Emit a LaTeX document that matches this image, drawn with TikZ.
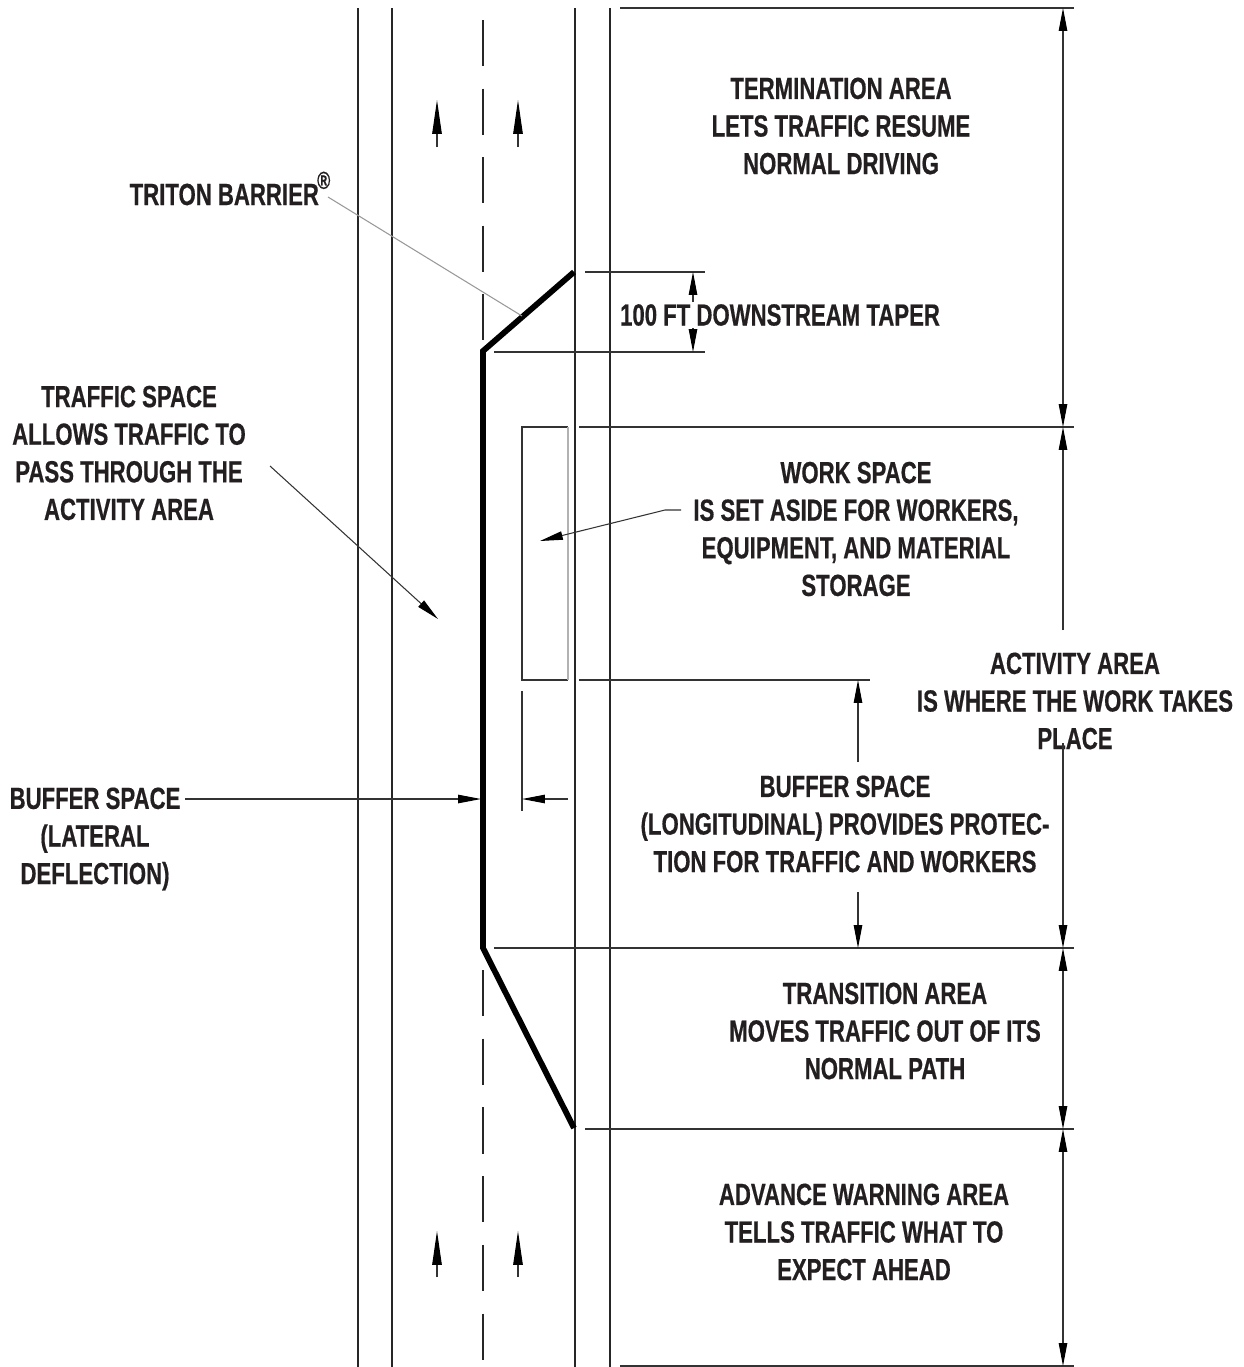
\documentclass[tikz,border=0pt]{standalone}
\usepackage{fontspec}
\usepackage{tikz}
\usetikzlibrary{calc,arrows.meta}
\setmainfont{Liberation Sans}[FakeStretch=0.725,BoldFeatures={FakeBold=.5}]
\definecolor{inktext}{HTML}{231F20}
\tikzset{
	head/.tip={Triangle[length=13pt,width=4.8pt,color=black]},
	bighead/.tip={Triangle[length=19.3pt,width=5.4pt,color=black]},
	road/.style={line width=.6pt,draw=black!85},
	dim/.style={line width=.6pt,draw=black!80},
	barrier/.style={line width=3.3pt,black,line join=miter},
	lead/.style={line width=.6pt,draw=black!80,-head},
	label/.style={font=\fontsize{17.4}{21.4}\selectfont\bfseries,text=inktext,align=center,inner sep=0pt}
}
\begin{document}
\begin{tikzpicture}[x=.02cm,y=-.02cm]
	\useasboundingbox (0,0) rectangle (1244,1367);
	\fill[white] (0,0) rectangle (1244,1367);
	% road edges
	\foreach \xpos in {358,392,575,610}{
		\draw[road] (\xpos,8)--(\xpos,1367);
	}
	\coordinate (dashtop) at (483,20);
	\coordinate (dashmid) at (483,342);
	\coordinate (dashlow) at (483,970);
	\coordinate (dashbot) at (483,1361);
	\draw[road,dash pattern=on 26.4pt off 12.6pt] (dashtop)--(dashmid);
	\draw[road,dash pattern=on 26.4pt off 12.7pt] (dashlow)--(dashbot);
	% barrier
	\coordinate (b1) at (574,272);
	\coordinate (b2) at (483,351);
	\coordinate (b3) at (483,948);
	\coordinate (b4) at (574,1128);
	\draw[barrier] (b1)--(b2)--(b3)--(b4);
	% labels
	\node[label] (term) at (841,126){TERMINATION AREA\\LETS TRAFFIC RESUME\\NORMAL DRIVING};
	\node[label,anchor=base] (triton) at (230,205){TRITON BARRIER\hspace{-1pt}\raisebox{1ex}{\fontsize{14}{14}\selectfont\textregistered}};
	\node[label] (taper) at (780,315){100 FT DOWNSTREAM TAPER};
	\node[label] (traffic) at (129,453){TRAFFIC SPACE\\ALLOWS TRAFFIC TO\\PASS THROUGH THE\\ACTIVITY AREA};
	\node[label] (work) at (856,529){WORK SPACE\\IS SET ASIDE FOR WORKERS,\\EQUIPMENT, AND MATERIAL\\STORAGE};
	\node[label] (activity) at (1075,701){ACTIVITY AREA\\IS WHERE THE WORK TAKES\\PLACE};
	\node[label] (bufflong) at (845,824){BUFFER SPACE\\(LONGITUDINAL) PROVIDES PROTEC-\\TION FOR TRAFFIC AND WORKERS};
	\node[label] (bufflat) at (95,839){BUFFER SPACE\\(LATERAL\\DEFLECTION)};
	\node[label] (trans) at (885,1031){TRANSITION AREA\\MOVES TRAFFIC OUT OF ITS\\NORMAL PATH};
	\node[label] (adv) at (864,1232){ADVANCE WARNING AREA\\TELLS TRAFFIC WHAT TO\\EXPECT AHEAD};
	% extension lines
	\foreach \xa/\xb/\ypos in {620/1074/8,585/705/272,494/705/352,579/1074/427,579/870/680,494/1074/948,585/1074/1129,620/1074/1366}{
		\draw[dim] (\xa,\ypos)--(\xb,\ypos);
	}
	% work space box
	\coordinate (w1) at (568,427);
	\coordinate (w2) at (522,427);
	\coordinate (w3) at (522,680);
	\coordinate (w4) at (568,680);
	\draw[dim] (w1)--(w2)--(w3)--(w4);
	\draw[line width=.6pt,black!30] (w1)--(w4);
	\coordinate (lat1) at (522,691);
	\coordinate (lat2) at (522,811);
	\draw[dim] (lat1)--(lat2);
	% dimension arrows
	\begin{scope}[every path/.style={dim}]
		\coordinate (d0) at (1063,8);
		\coordinate (d1) at (1063,427);
		\coordinate (d2) at (1063,948);
		\coordinate (d3) at (1063,1129);
		\coordinate (d4) at (1063,1366);
		\coordinate (d1b) at (1063,630);
		\coordinate (d2b) at (1063,743);
		\draw[head-head] (d0)--(d1);
		\draw[-head] (d1b)--(d1);
		\draw[-head] (d2b)--(d2);
		\draw[head-head] (d2)--(d3);
		\draw[head-head] (d3)--(d4);
		\coordinate (t1) at (693,272);
		\coordinate (t1b) at (693,302);
		\coordinate (t2) at (693,352);
		\coordinate (t2b) at (693,328);
		\draw[-head] (t1b)--(t1);
		\draw[-head] (t2b)--(t2);
		\coordinate (u1) at (858,680);
		\coordinate (u1b) at (858,762);
		\coordinate (u2) at (858,948);
		\coordinate (u2b) at (858,892);
		\draw[-head] (u1b)--(u1);
		\draw[-head] (u2b)--(u2);
	\end{scope}
	% leaders
	\coordinate (latend) at (481,799);
	\coordinate (latin) at (522,799);
	\coordinate (latout) at (568,799);
	\coordinate (latstart) at (185,799);
	\draw[lead] (latstart)--(latend);
	\draw[lead] (latout)--(latin);
	\coordinate (wk1) at (681,510);
	\coordinate (wk2) at (665,510);
	\coordinate (wk3) at (540,541);
	\draw[lead] (wk1)--(wk2)--(wk3);
	\coordinate (tr1) at (270,466);
	\coordinate (tr2) at (438,619);
	\draw[lead] (tr1)--(tr2);
	\coordinate (tb1) at (328,197);
	\coordinate (tb2) at (522,316);
	\draw[line width=.6pt,black!40] (tb1)--(tb2);
	% traffic direction
	\foreach \xpos/\ya/\yb in {437/147/100,518/147/100,437/1277/1231,518/1277/1231}{
		\draw[line width=.6pt,draw=black!80,-bighead] (\xpos,\ya)--(\xpos,\yb);
	}
\end{tikzpicture}
\end{document}
